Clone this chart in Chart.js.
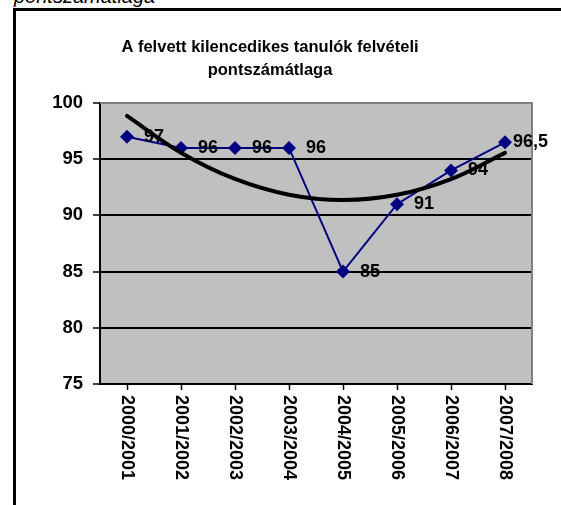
<!DOCTYPE html>
<html>
<head>
<meta charset="utf-8">
<script src="https://cdn.jsdelivr.net/npm/chart.js@4.4.1/dist/chart.umd.min.js"></script>
<style>
  html, body { margin: 0; padding: 0; background: #fff; }
  #page { position: relative; width: 561px; height: 505px; overflow: hidden; }
  #docText {
    position: absolute; left: 14px; top: -14px;
    font: italic 20px Arial, "Liberation Sans", sans-serif; line-height: 20px;
    color: #000; white-space: nowrap;
  }
  #frame {
    position: absolute; left: 13px; top: 8px; width: 700px; height: 600px;
    border-top: 3px solid #000; border-left: 3px solid #000;
  }
  #chartBox { position: absolute; left: 0; top: 0; width: 561px; height: 505px; }
</style>
</head>
<body>
<div id="page">
  <div id="docText">pontszámátlaga</div>
  <div id="frame"></div>
  <div id="chartBox"><canvas id="avgChart" width="561" height="505"></canvas></div>
</div>
<script>
// chart data
const titleLines = ['A felvett kilencedikes tanulók felvételi', 'pontszámátlaga'];
const schoolYears = ['2000/2001', '2001/2002', '2002/2003', '2003/2004',
                     '2004/2005', '2005/2006', '2006/2007', '2007/2008'];
const avgPoints = [97, 96, 96, 96, 85, 91, 94, 96.5];
// polynomial trendline
const trendPoints = [98.85, 95.58, 93.24, 91.84, 91.37, 91.83, 93.23, 95.56];
const yMin = 75;
const yMax = 100;
const yStep = 5;

const FONT = 'Arial, "Liberation Sans", sans-serif';

// gray plot background and gray top/right border
const plotFrame = {
    id: 'plotFrame',
    beforeDraw(chart) {
        const { ctx, chartArea: a } = chart;
        ctx.save();
        ctx.fillStyle = '#c0c0c0';
        ctx.fillRect(a.left, a.top, a.right - a.left, a.bottom - a.top);
        ctx.restore();
    },
    beforeDatasetsDraw(chart) {
        const { ctx, chartArea: a } = chart;
        ctx.save();
        ctx.strokeStyle = '#808080';
        ctx.lineWidth = 2;
        ctx.beginPath();
        ctx.moveTo(a.left, a.top);
        ctx.lineTo(a.right, a.top);
        ctx.lineTo(a.right, a.bottom);
        ctx.stroke();
        ctx.restore();
    },
    afterDraw(chart) {
        const { ctx } = chart;
        // title
        ctx.save();
        ctx.fillStyle = '#000';
        ctx.font = 'bold 16.5px ' + FONT;
        ctx.textAlign = 'center';
        ctx.textBaseline = 'middle';
        ctx.fillText(titleLines[0], 270, 47);
        ctx.fillText(titleLines[1], 270, 70);
        // x labels, rotated clockwise
        const xs = chart.scales.x;
        ctx.font = 'bold 18px ' + FONT;
        ctx.textAlign = 'left';
        ctx.textBaseline = 'middle';
        schoolYears.forEach((lbl, i) => {
            ctx.save();
            ctx.translate(xs.getPixelForValue(i), chart.chartArea.bottom + 11);
            ctx.rotate(Math.PI / 2);
            ctx.fillText(lbl, 0, 0);
            ctx.restore();
        });
        ctx.restore();
    }
};

// value labels, drawn right after the data line (trendline goes over them)
const valueLabels = {
    id: 'valueLabels',
    afterDatasetDraw(chart, args) {
        if (args.index !== 1) return;
        const { ctx, chartArea: a } = chart;
        const meta = chart.getDatasetMeta(1);
        ctx.save();
        ctx.fillStyle = '#000';
        ctx.font = 'bold 18px ' + FONT;
        ctx.textAlign = 'left';
        ctx.textBaseline = 'middle';
        meta.data.forEach((pt, i) => {
            const txt = String(avgPoints[i]).replace('.', ',');
            const w = ctx.measureText(txt).width;
            let x = pt.x + 17;
            if (x + w > a.right + 16) x = a.right + 16 - w;
            ctx.fillText(txt, x, pt.y);
        });
        ctx.restore();
    }
};

new Chart(document.getElementById('avgChart'), {
    type: 'line',
    data: {
        labels: schoolYears,
        datasets: [{
            label: 'Trend',
            data: trendPoints,
            borderColor: '#000',
            borderWidth: 4,
            borderCapStyle: 'round',
            pointRadius: 0,
            tension: 0.4,
            fill: false
        }, {
            label: 'Pontszámátlag',
            data: avgPoints,
            borderColor: '#000080',
            backgroundColor: '#000080',
            borderWidth: 2,
            pointStyle: 'rectRot',
            pointRadius: 7,
            pointBorderWidth: 0,
            tension: 0,
            fill: false
        }]
    },
    options: {
        responsive: false,
        animation: false,
        layout: { padding: { top: 103, right: 29, left: 0, bottom: 0 } },
        plugins: {
            legend: { display: false },
            title: { display: false },
            tooltip: { enabled: false }
        },
        scales: {
            x: {
                offset: true,
                grid: { drawOnChartArea: false, tickLength: 6, tickColor: '#000', tickWidth: 1.5 },
                border: { color: '#000', width: 2 },
                ticks: { display: false },
                afterFit(scale) { scale.height = 121; }
            },
            y: {
                min: yMin,
                max: yMax,
                ticks: {
                    stepSize: yStep,
                    color: '#000',
                    padding: 10,
                    font: { family: FONT, size: 18.5, weight: 'bold' }
                },
                grid: {
                    color: ctx => (ctx.tick && ctx.tick.value === yMax) ? 'rgba(0,0,0,0)' : '#000',
                    lineWidth: 2,
                    tickLength: 7,
                    tickColor: '#000',
                    tickWidth: 1.5
                },
                border: { color: '#000', width: 2 },
                afterFit(scale) { scale.width = 100; }
            }
        }
    },
    plugins: [plotFrame, valueLabels]
});
</script>
</body>
</html>
